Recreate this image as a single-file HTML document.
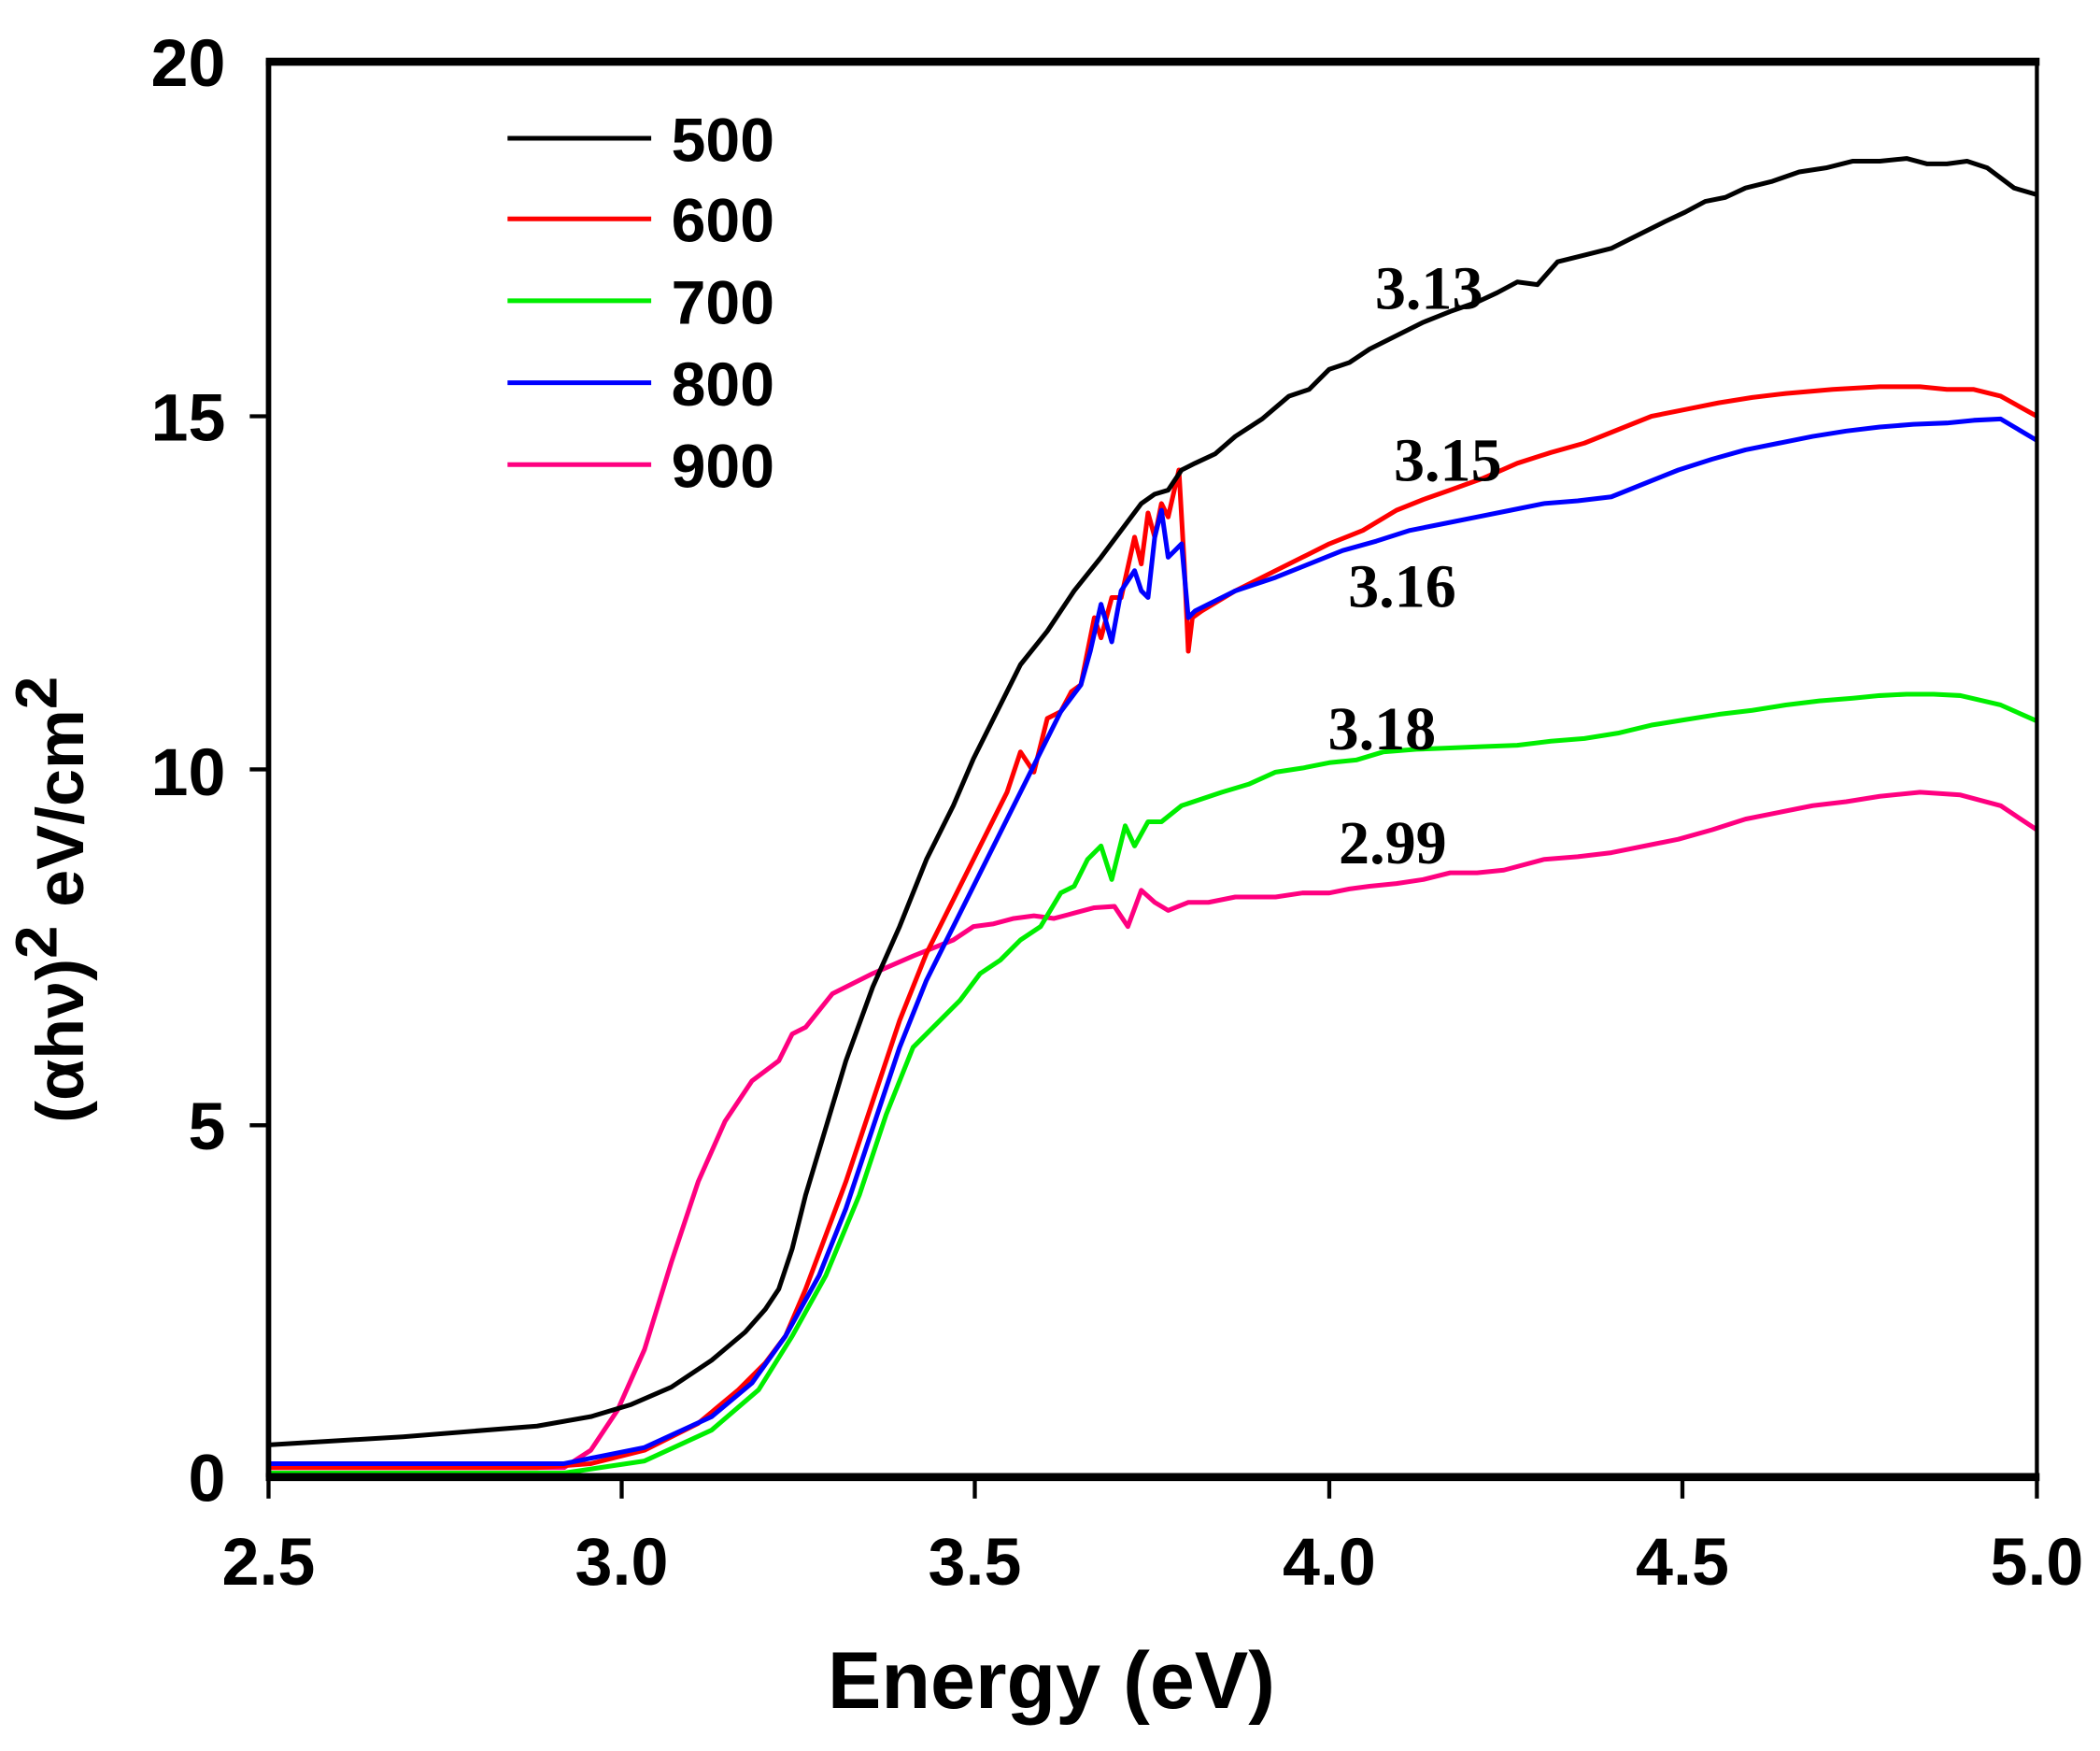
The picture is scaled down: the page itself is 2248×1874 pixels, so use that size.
<!DOCTYPE html>
<html><head><meta charset="utf-8"><style>
html,body{margin:0;padding:0;background:#fff;}
svg{display:block;}
.t{font-family:"Liberation Sans",sans-serif;font-weight:bold;font-size:50px;fill:#000;}
.a{font-family:"Liberation Serif",serif;font-weight:bold;font-size:46px;fill:#000;}
</style></head><body>
<svg width="2248" height="1874" viewBox="0 0 1564 1304" preserveAspectRatio="none" xmlns="http://www.w3.org/2000/svg">
<rect width="1564" height="1304" fill="#fff"/>
<g fill="none" stroke-width="3.5" stroke-linejoin="round">
<polyline stroke="#ff0080" points="200,1093 420,1093 440,1080 460,1050 480,1005 500,940 520,880 540,835 560,805 580,790 590,770 600,765 620,740 650,725 680,712 710,700 725,690 740,688 755,684 770,682 785,684 800,680 815,676 830,675 840,690 850,663 860,672 870,678 885,672 900,672 920,668 950,668 970,665 990,665 1005,662 1020,660 1040,658 1060,655 1080,650 1100,650 1120,648 1150,640 1175,638 1200,635 1225,630 1250,625 1275,618 1300,610 1325,605 1350,600 1375,597 1400,593 1430,590 1460,592 1490,600 1517,618"/>
<polyline stroke="#00ee00" points="200,1097 420,1097 480,1088 530,1065 565,1035 590,995 615,950 640,890 660,830 680,780 700,760 715,745 730,725 745,715 760,700 775,690 790,665 800,660 810,640 820,630 828,655 838,615 845,630 855,612 865,612 880,600 910,590 930,584 950,575 970,572 990,568 1010,566 1030,560 1055,558 1080,557 1105,556 1130,555 1155,552 1180,550 1205,546 1230,540 1255,536 1280,532 1305,529 1330,525 1355,522 1380,520 1400,518 1420,517 1440,517 1460,518 1490,525 1517,537"/>
<polyline stroke="#ff0000" points="200,1093 400,1093 440,1090 480,1080 520,1060 550,1035 570,1015 585,995 600,960 615,920 630,880 650,820 670,760 690,710 710,670 730,630 750,590 760,560 770,575 780,535 790,530 798,515 805,510 815,460 820,475 828,445 835,445 845,400 850,420 855,382 860,400 865,375 870,385 878,350 882,420 885,485 888,460 895,455 920,440 950,425 970,415 990,405 1015,395 1040,380 1060,372 1080,365 1105,356 1130,345 1155,337 1180,330 1205,320 1230,310 1255,305 1280,300 1305,296 1330,293 1365,290 1400,288 1430,288 1450,290 1470,290 1490,295 1517,310"/>
<polyline stroke="#0000ff" points="200,1090 420,1090 480,1078 530,1055 560,1030 585,995 610,950 630,900 650,840 670,780 690,730 710,690 730,650 750,610 770,570 790,530 805,510 812,485 820,450 828,478 835,440 845,425 850,440 855,445 860,400 865,380 870,415 875,410 880,405 885,460 890,455 920,440 950,430 975,420 1000,410 1025,403 1050,395 1075,390 1100,385 1125,380 1150,375 1175,373 1200,370 1225,360 1250,350 1275,342 1300,335 1325,330 1350,325 1375,321 1400,318 1425,316 1450,315 1470,313 1490,312 1517,328"/>
<polyline stroke="#000" points="200,1076 300,1070 400,1062 440,1055 470,1046 500,1033 530,1013 555,992 570,975 580,960 590,930 600,890 615,840 630,790 650,735 670,690 690,640 710,600 725,565 745,525 760,495 780,470 800,440 820,415 835,395 850,375 860,368 870,365 880,350 890,345 905,338 920,325 940,312 960,295 975,290 990,275 1005,270 1020,260 1040,250 1060,240 1080,232 1100,225 1115,218 1130,210 1145,212 1160,195 1180,190 1200,185 1220,175 1240,165 1255,158 1270,150 1285,147 1300,140 1320,135 1340,128 1360,125 1380,120 1400,120 1420,118 1435,122 1450,122 1465,120 1480,125 1500,140 1517,145"/>
</g>
<g stroke="#000" fill="none">
<line x1="200" y1="45" x2="200" y2="1100" stroke-width="4"/>
<line x1="1517" y1="45" x2="1517" y2="1100" stroke-width="3"/>
<line x1="198" y1="46" x2="1519" y2="46" stroke-width="6"/>
<line x1="198" y1="1100" x2="1519" y2="1100" stroke-width="6"/>
<g stroke-width="3">
<line x1="200" y1="1100" x2="200" y2="1116"/><line x1="463" y1="1100" x2="463" y2="1116"/><line x1="726" y1="1100" x2="726" y2="1116"/><line x1="990" y1="1100" x2="990" y2="1116"/><line x1="1253" y1="1100" x2="1253" y2="1116"/><line x1="1517" y1="1100" x2="1517" y2="1116"/>
<line x1="186" y1="838" x2="200" y2="838"/><line x1="186" y1="573" x2="200" y2="573"/><line x1="186" y1="310" x2="200" y2="310"/>
</g>
</g>
<g class="t" text-anchor="middle">
<text x="200" y="1180">2.5</text><text x="463" y="1180">3.0</text><text x="726" y="1180">3.5</text><text x="990" y="1180">4.0</text><text x="1253" y="1180">4.5</text><text x="1517" y="1180">5.0</text>
</g>
<g class="t" text-anchor="end">
<text x="168" y="1118">0</text><text x="168" y="856">5</text><text x="168" y="592">10</text><text x="168" y="328">15</text><text x="168" y="64">20</text>
</g>
<text class="t" x="783" y="1272" text-anchor="middle" style="font-size:60px">Energy (eV)</text>
<text class="t" transform="translate(62,670) rotate(-90)" text-anchor="middle" style="font-size:50px">(αhν)<tspan dy="-20" style="font-size:44px">2</tspan><tspan dy="20"> eV/cm</tspan><tspan dy="-20" style="font-size:44px">2</tspan></text>
<g stroke-width="3.5">
<line x1="378" y1="103" x2="485" y2="103" stroke="#000"/>
<line x1="378" y1="163" x2="485" y2="163" stroke="#f00"/>
<line x1="378" y1="224" x2="485" y2="224" stroke="#00ee00"/>
<line x1="378" y1="285" x2="485" y2="285" stroke="#00f"/>
<line x1="378" y1="346" x2="485" y2="346" stroke="#ff0080"/>
</g>
<g class="t" style="font-size:46px">
<text x="500" y="120">500</text><text x="500" y="180">600</text><text x="500" y="241">700</text><text x="500" y="302">800</text><text x="500" y="363">900</text>
</g>
<g class="a">
<text x="1024" y="230">3.13</text><text x="1038" y="358">3.15</text><text x="1004" y="452">3.16</text><text x="989" y="558">3.18</text><text x="997" y="643">2.99</text>
</g>
</svg>
</body></html>
